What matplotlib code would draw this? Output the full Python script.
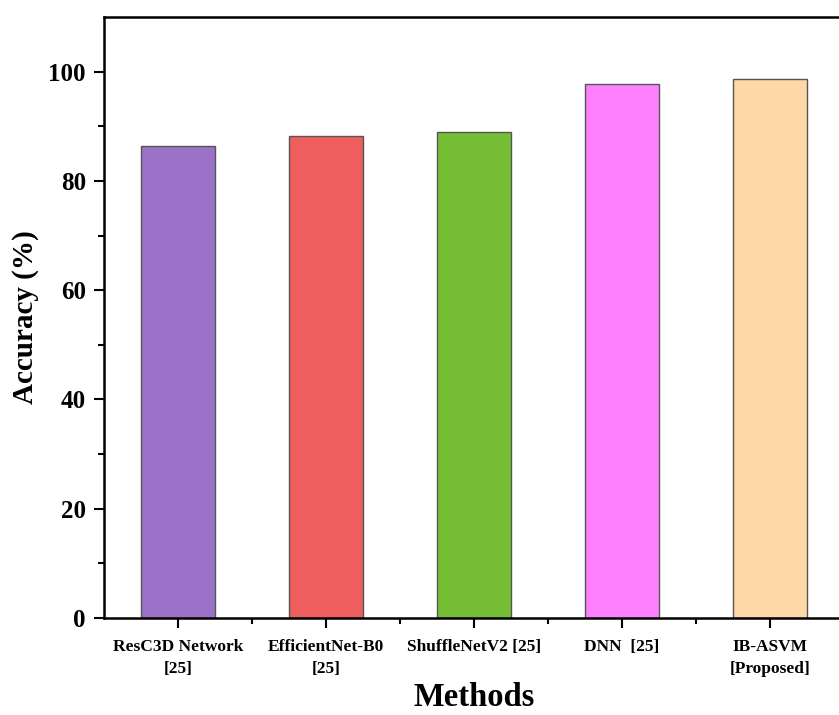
import matplotlib
matplotlib.use("Agg")
import matplotlib.pyplot as plt
from matplotlib.ticker import FixedLocator

plt.rcParams['font.family'] = ['Liberation Serif', 'DejaVu Serif']
plt.rcParams['font.weight'] = 'bold'

methods = ["ResC3D Network\n[25]", "EfficientNet-B0\n[25]", "ShuffleNetV2 [25]", "DNN  [25]", "IB-ASVM\n[Proposed]"]
accuracy = [86.4, 88.3, 88.9, 97.8, 98.7]
colors = ["#9B72C8", "#EE5E5E", "#77BE37", "#FF80FF", "#FFD8A8"]

fig = plt.figure(figsize=(8.39, 7.15), dpi=100)
ax = fig.add_axes([104/839, 1-618/715, (844-104)/839, (618-17)/715])

pos = list(range(1, len(methods) + 1))
ax.bar(pos, accuracy, width=0.5, color=colors, edgecolor="#555555", linewidth=1.0)

ax.set_xlim(0.5, 5.5)
ax.set_ylim(0, 110)
ax.set_xticks(pos)
ax.set_xticklabels(methods, fontsize=12.5, fontweight='bold', linespacing=1.5)
ax.xaxis.set_minor_locator(FixedLocator([1.5, 2.5, 3.5, 4.5]))
ax.yaxis.set_major_locator(FixedLocator([0, 20, 40, 60, 80, 100]))
ax.yaxis.set_minor_locator(FixedLocator([10, 30, 50, 70, 90]))
for lab in ax.get_yticklabels():
    lab.set_fontsize(18)
    lab.set_fontweight('bold')

ax.tick_params(axis='both', which='major', direction='out', length=7, width=1.5)
ax.tick_params(axis='both', which='minor', direction='out', length=4, width=1.5)
ax.tick_params(axis='x', which='major', pad=8)
ax.tick_params(axis='y', which='major', pad=6)

for s in ['left', 'bottom', 'top']:
    ax.spines[s].set_linewidth(1.8)
ax.spines['right'].set_visible(False)

ax.set_xlabel("Methods", fontsize=23.5, fontweight='bold', labelpad=4)
ax.set_ylabel("Accuracy (%)", fontsize=21, fontweight='bold', labelpad=7)

fig.savefig("out.png", dpi=100)
